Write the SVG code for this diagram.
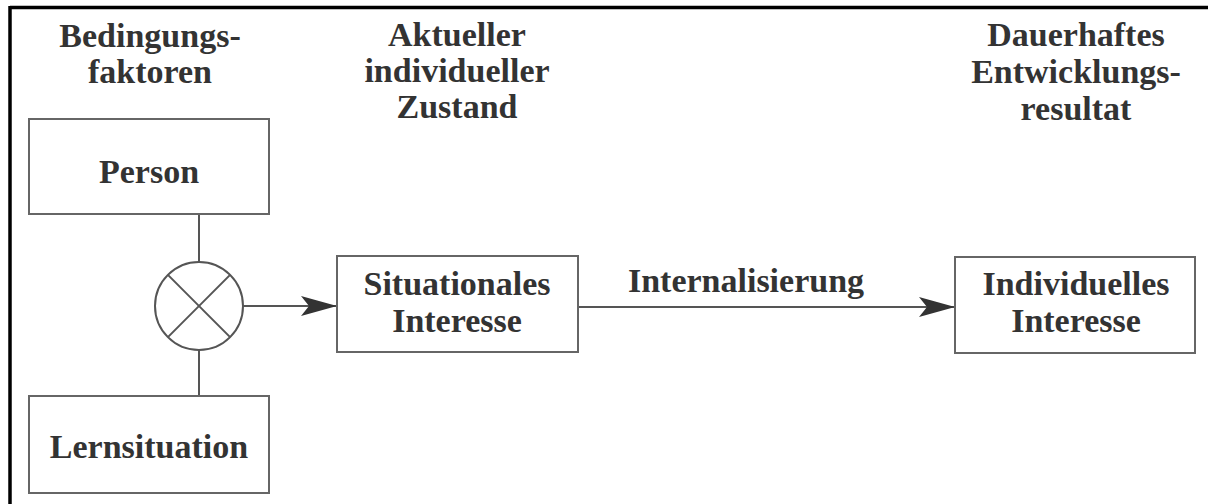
<svg xmlns="http://www.w3.org/2000/svg" width="1208" height="504" viewBox="0 0 1208 504">
<style>
.t{font-family:"Liberation Serif","Times New Roman",serif;font-weight:bold;font-size:34px;fill:#333;text-anchor:middle}
.box{fill:#fff;stroke:#666;stroke-width:2}
.ln{stroke:#555;stroke-width:2;fill:none}
</style>
<defs>
<marker id="arr" viewBox="0 0 36 20" refX="36" refY="10" markerWidth="36" markerHeight="20" markerUnits="userSpaceOnUse" orient="auto">
<path d="M0,0 L36,10 L0,20 L8,10 Z" fill="#333"/>
</marker>
</defs>
<rect width="1208" height="504" fill="#fff"/>
<g id="frame">
<line x1="10" y1="7.5" x2="1208" y2="7.5" stroke="#000" stroke-width="3.5"/>
<line x1="10" y1="6" x2="10" y2="504" stroke="#000" stroke-width="3.5"/>
</g>
<g id="headers">
<text class="t" x="150" y="47">Bedingungs-</text>
<text class="t" x="150" y="83">faktoren</text>
<text class="t" x="457" y="46">Aktueller</text>
<text class="t" x="457" y="82">individueller</text>
<text class="t" x="457" y="118">Zustand</text>
<text class="t" x="1076" y="46">Dauerhaftes</text>
<text class="t" x="1076" y="83">Entwicklungs-</text>
<text class="t" x="1076" y="120">resultat</text>
</g>
<g id="connectors">
<line class="ln" x1="199" y1="214" x2="199" y2="262"/>
<line class="ln" x1="199" y1="350" x2="199" y2="396"/>
<line class="ln" x1="243" y1="306" x2="337" y2="306" marker-end="url(#arr)"/>
<line class="ln" x1="578" y1="307" x2="955" y2="307" marker-end="url(#arr)"/>
<text class="t" x="746" y="292">Internalisierung</text>
</g>
<g id="person">
<rect class="box" x="29" y="119" width="240" height="95"/>
<text class="t" x="149" y="183">Person</text>
</g>
<g id="lernsituation">
<rect class="box" x="29" y="396" width="240" height="97"/>
<text class="t" x="149" y="458">Lernsituation</text>
</g>
<g id="combine">
<circle cx="199" cy="306" r="44" fill="#fff" stroke="#555" stroke-width="2"/>
<line class="ln" x1="167.9" y1="274.9" x2="230.1" y2="337.1"/>
<line class="ln" x1="230.1" y1="274.9" x2="167.9" y2="337.1"/>
</g>
<g id="situationales">
<rect class="box" x="337" y="256" width="241" height="96"/>
<text class="t" x="457" y="295">Situationales</text>
<text class="t" x="457" y="332">Interesse</text>
</g>
<g id="individuelles">
<rect class="box" x="955" y="257" width="240" height="96"/>
<text class="t" x="1076" y="295">Individuelles</text>
<text class="t" x="1076" y="332">Interesse</text>
</g>
</svg>
